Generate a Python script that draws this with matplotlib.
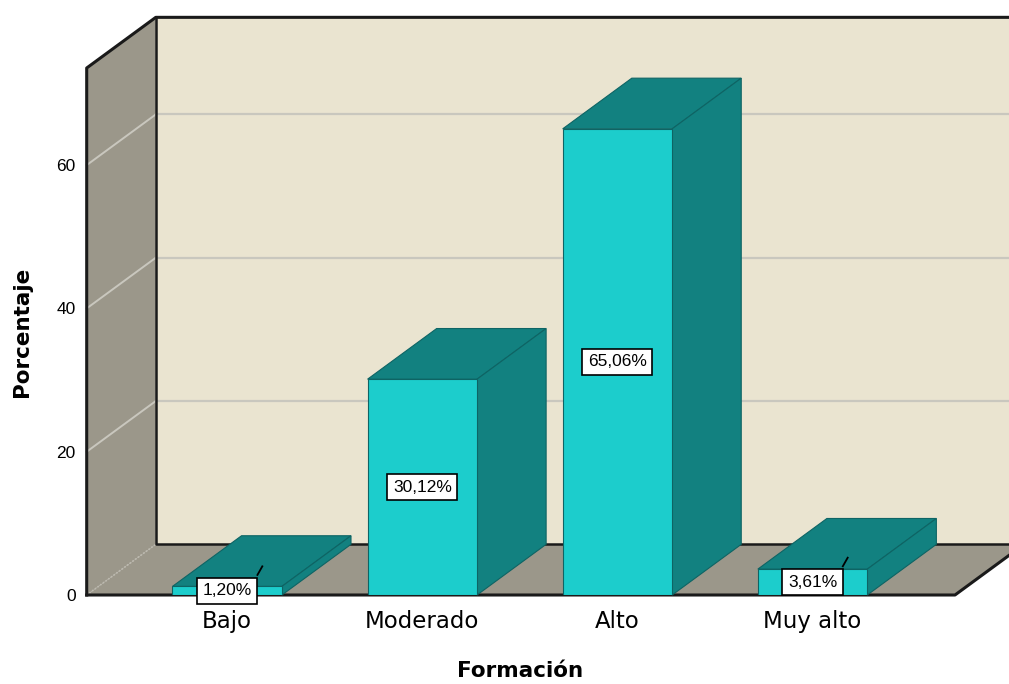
import matplotlib.pyplot as plt
from matplotlib.patches import Polygon

plt.rcParams['font.family'] = ['Liberation Sans', 'DejaVu Sans']

categorias = ['Bajo', 'Moderado', 'Alto', 'Muy alto']
porcentajes = [1.20, 30.12, 65.06, 3.61]
ticks_y = [0, 20, 40, 60]

# colores estilo SPSS
c_frente = '#1CCDCC'
c_lado = '#128180'
c_borde_barra = '#0E6464'
c_pared = '#9B978A'
c_fondo = '#EAE4D0'
c_grid = '#C9C7BE'

# profundidad del efecto 3D (unidades de datos)
DX, DY = 0.354, 7.07
ancho = 0.561
xl, xr = -0.72, 3.73
ytop = 73.55

fig = plt.figure(figsize=(10.09, 6.84), dpi=100)
ax = fig.add_axes([86.7 / 1009, 89 / 684, 868.3 / 1009, 527 / 684])
ax.set_xlim(xl, xr)
ax.set_ylim(0, ytop)
for s in ax.spines.values():
    s.set_visible(False)
ax.patch.set_visible(False)


def poli(pts, fc, ec='none', lw=0, z=1):
    ax.add_patch(Polygon(pts, closed=True, facecolor=fc, edgecolor=ec,
                         linewidth=lw, zorder=z, clip_on=False))


# paredes y piso
poli([(xl + DX, DY), (xl + DX, ytop + DY), (xr + DX, ytop + DY), (xr + DX, DY)], c_fondo, z=1)
poli([(xl, 0), (xl, ytop), (xl + DX, ytop + DY), (xl + DX, DY)], c_pared, z=1)
poli([(xl, 0), (xr, 0), (xr + DX, DY), (xl + DX, DY)], c_pared, z=1)

# lineas de cuadricula
for g in ticks_y[1:]:
    ax.plot([xl + DX, xr + DX], [g + DY, g + DY], color=c_grid, lw=1.6, zorder=2, clip_on=False)
    ax.plot([xl, xl + DX], [g, g + DY], color=c_grid, lw=1.4, zorder=2, clip_on=False)
ax.plot([xl, xl + DX], [0, DY], color='#BDBAB0', lw=1.2, ls=(0, (1, 1)), zorder=2, clip_on=False)

# bordes del cubo
k = dict(color='#1A1A1A', zorder=3, clip_on=False, solid_capstyle='projecting')
ax.plot([xl, xl, xl + DX, xr + DX], [0, ytop, ytop + DY, ytop + DY], lw=2.2, **k)
ax.plot([xl + DX, xl + DX, xr + DX], [ytop + DY, DY, DY], lw=1.8, **k)
ax.plot([xl, xr, xr + DX], [0, 0, DY], lw=2.2, **k)

# barras
xs = list(range(len(categorias)))
ax.bar(xs, porcentajes, width=ancho, color=c_frente, edgecolor=c_borde_barra,
       linewidth=0.8, zorder=6)
for x, v in zip(xs, porcentajes):
    x0, x1 = x - ancho / 2, x + ancho / 2
    poli([(x0, v), (x1, v), (x1 + DX, v + DY), (x0 + DX, v + DY)], c_lado, c_borde_barra, 0.8, 5)
    poli([(x1, 0), (x1 + DX, DY), (x1 + DX, v + DY), (x1, v)], c_lado, c_borde_barra, 0.8, 5)

# etiquetas de valor
for x, v in zip(xs, porcentajes):
    txt = f'{v:.2f}%'.replace('.', ',')
    ax.text(x, v / 2, txt, ha='center', va='center', fontsize=12.5, zorder=10,
            bbox=dict(boxstyle='square,pad=0.32', fc='white', ec='black', lw=1.2))
    if v < 5:
        ax.plot([x + 0.155, x + 0.18], [v / 2 + 2.2, v / 2 + 3.4], color='black',
                lw=1.3, zorder=9)

ax.set_yticks(ticks_y)
ax.set_yticklabels([str(t) for t in ticks_y])
ax.tick_params(axis='y', length=0, pad=8, labelsize=12.5)
ax.set_xticks(xs)
ax.set_xticklabels(categorias, fontsize=16.5, family='DejaVu Sans')
ax.tick_params(axis='x', length=0, pad=11)

fig.text(520 / 1009, 1 - 677 / 684, 'Formación', ha='center', va='baseline',
         fontsize=15.5, fontweight='bold', family='DejaVu Sans')
fig.text(22 / 1009, 1 - 331.5 / 684, 'Porcentaje', ha='center', va='center',
         rotation=90, fontsize=15.5, fontweight='bold', family='DejaVu Sans')

fig.savefig('out.png', dpi=100)
